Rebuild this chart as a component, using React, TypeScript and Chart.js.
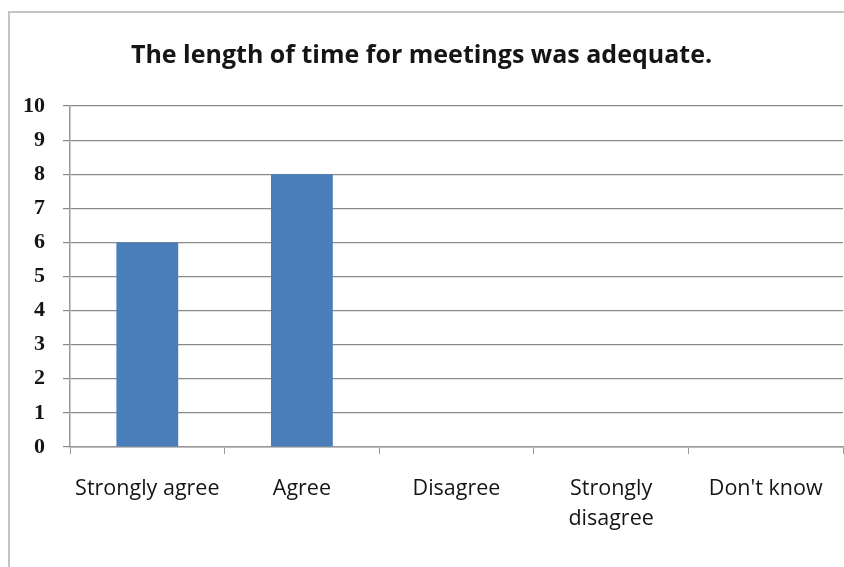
import React, { useEffect, useRef } from "react";
import { Chart, registerables } from "chart.js";

Chart.register(...registerables);

const chartTitle = "The length of time for meetings was adequate.";
const categories: (string | string[])[] = [
  "Strongly agree",
  "Agree",
  "Disagree",
  ["Strongly", "disagree"],
  "Don't know",
];
const responses = [6, 8, 0, 0, 0];
const yTicks = [0, 1, 2, 3, 4, 5, 6, 7, 8, 9, 10];

export default function App() {
  const canvasRef = useRef<HTMLCanvasElement>(null);

  useEffect(() => {
    if (!canvasRef.current) return;
    const chart = new Chart(canvasRef.current, {
      type: "bar",
      data: {
        labels: categories,
        datasets: [
          {
            data: responses,
            backgroundColor: "#4a7ebb",
            borderWidth: 0,
            barPercentage: 0.4,
            categoryPercentage: 1,
          },
        ],
      },
      options: {
        animation: false,
        responsive: false,
        devicePixelRatio: 1,
        layout: { padding: { left: 0, right: 1, top: 0, bottom: 0 } },
        plugins: {
          legend: { display: false },
          tooltip: { enabled: false },
          title: {
            display: true,
            text: chartTitle,
            color: "#151515",
            font: { family: "Open Sans", size: 25, weight: "bold", lineHeight: "30px" },
            padding: { top: 41, bottom: 35 },
          },
        },
        scales: {
          x: {
            offset: true,
            grid: {
              offset: true,
              drawOnChartArea: false,
              drawTicks: true,
              tickLength: 7,
              color: "#999",
            },
            border: { color: "#999", width: 1.5 },
            ticks: {
              color: "#151515",
              font: { family: "Open Sans", size: 21.5, lineHeight: "30px" },
              padding: 20,
              maxRotation: 0,
              autoSkip: false,
            },
            afterFit: (s: any) => {
              s.height = 120;
            },
          },
          y: {
            min: 0,
            max: 10,
            afterBuildTicks: (s: any) => {
              s.ticks = yTicks.map((v) => ({ value: v }));
            },
            grid: { color: "#8a8a8a", tickLength: 7, lineWidth: 1.2 },
            border: { color: "#999", width: 1.5 },
            ticks: {
              color: "#151515",
              font: { family: "Liberation Serif", size: 22, weight: "bold" },
              padding: 18,
            },
            afterFit: (s: any) => {
              s.width = 70;
            },
          },
        },
      },
    });
    return () => chart.destroy();
  }, []);

  return (
    <div
      style={{
        position: "fixed",
        left: 0,
        top: 0,
        width: 844,
        height: 567,
        overflow: "hidden",
        background: "#fff",
      }}
    >
      <div
        style={{
          position: "absolute",
          left: 8,
          top: 11,
          width: 900,
          height: 700,
          border: "2px solid #c4c4c4",
        }}
      />
      <canvas
        ref={canvasRef}
        width={844}
        height={567}
        style={{ position: "absolute", left: 0, top: 0 }}
      />
    </div>
  );
}
